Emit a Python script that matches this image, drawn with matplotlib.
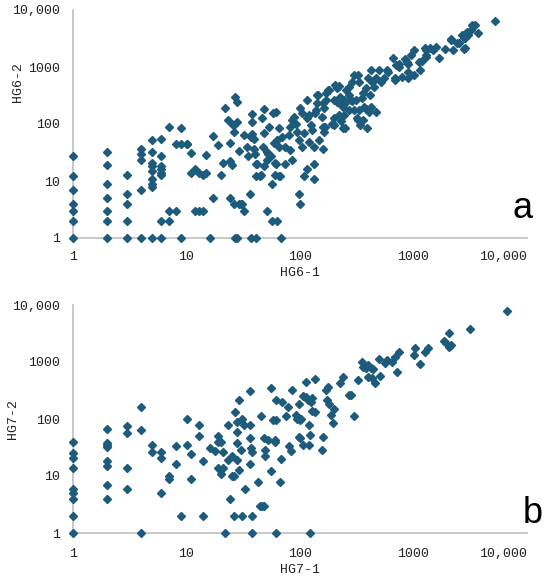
import numpy as np
import matplotlib.pyplot as plt

# HG6 (panel a): HG6-1 vs HG6-2
hg6_1 = [1, 1, 1, 1, 1, 1, 1,
         2, 2, 2, 2, 2, 2, 2,
         3, 3, 3, 3, 3,
         4, 4, 4, 4, 4,
         5, 5, 5, 5, 5, 5, 5, 5, 5,
         6, 6, 6, 6, 6, 6, 6, 6,
         7, 7, 7, 8, 8, 9, 9, 9, 10, 10, 11, 11,
         12, 12, 13, 13, 14, 14, 15, 15, 16, 17, 17, 19, 20, 21, 22, 23, 24, 24, 24, 25, 25, 26, 26, 26,
         27, 28, 28, 29, 29, 30, 31, 27, 28, 32, 32, 34, 35, 36, 38, 38, 38, 37, 39, 39, 40, 41, 42,
         41, 44, 45, 37, 41, 46, 48, 47, 48, 48, 51, 52, 51, 53, 51, 55, 57, 57, 58, 59, 60, 60,
         61, 65, 63, 65, 61, 65, 67, 63, 68, 70, 74, 74, 80, 82, 85, 82, 85, 88, 92, 95, 98, 98, 101,
         101, 105, 105, 108, 108, 115, 115, 115, 120, 120, 124, 128, 132, 132, 132, 136, 140, 143, 146,
         155, 160, 160, 164, 164, 170, 180, 170, 195, 200, 200, 205, 213, 220, 220, 227, 235, 240, 240,
         246, 254, 254, 270, 270, 280, 290, 300, 300, 310, 320, 325, 340, 350, 360, 370, 380, 400, 405,
         420, 430, 450, 550, 580, 600, 660, 690, 700, 740, 790, 900, 870, 950, 1000, 1260, 1300, 1410,
         1500, 2150, 2210, 2420, 2650, 2860, 2860, 2960, 3050, 3200, 3500, 3700, 5200,
         3300, 2800, 2900, 2800, 2500, 2150, 1900, 2800, 1690, 1590, 1290, 1290, 1180, 1120, 1150,
         1000, 890, 850, 890, 740, 690, 500, 470, 520, 324, 450, 410, 470, 425, 380, 390, 360, 330,
         330, 270, 220, 178, 290, 245, 210, 160, 140, 137, 200, 230, 250, 190, 166]
hg6_2 = [27, 12, 7, 4, 3, 2, 1,
         32, 19, 9, 5, 3, 2, 1,
         13, 6, 4, 2, 1,
         36, 30, 23, 7, 1,
         52, 32, 21, 18, 15, 11, 9, 8, 1,
         54, 27, 18, 16, 14, 13, 2, 1,
         88, 3, 2, 45, 3, 84, 44, 1, 44, 44, 31, 14,
         3, 16, 3, 14, 3, 13, 29, 14, 1, 5, 61, 42, 13, 21, 193, 117, 46, 5, 22, 19, 100, 72, 4, 98,
         300, 245, 110, 34, 4, 4, 4, 1, 1, 3, 63, 40, 27, 6, 150, 110, 68, 60, 54, 37, 30, 20, 20,
         12, 12, 13, 1, 1, 125, 186, 40, 69, 18, 32, 30, 3, 90, 23, 27, 9, 2, 155, 46, 21, 13,
         164, 84, 52, 40, 20, 12, 12, 2, 1, 60, 40, 20, 63, 90, 117, 35, 23, 134, 102, 73, 52, 6, 4,
         188, 155, 40, 69, 12, 16, 262, 125, 49, 145, 96, 78, 40, 20, 11, 155, 233, 324, 52,
         134, 90, 37, 73, 188, 262, 400, 345, 102, 96, 262, 480, 420, 233, 145, 300, 245, 200, 84,
         145, 400, 245, 324, 176, 262, 550, 720, 176, 262, 125, 117, 96, 282, 345, 200, 420, 630, 164,
         890, 550, 590, 630, 890, 830, 1420, 590, 1080, 1150, 680, 830, 1240, 1620, 1990, 2130, 1510, 2130,
         1990, 2960, 1990, 2620, 3630, 2130, 3200, 4170, 3630, 4500, 5500, 3900, 6500,
         5450, 3500, 4000, 3200, 2600, 3070, 2100, 2080, 1450, 2200, 2000, 1620, 1290, 1230, 870,
         720, 630, 1360, 1150, 1000, 630, 890, 630, 550, 720, 440, 320, 165, 200, 183, 84, 117, 178,
         550, 450, 470, 400, 250, 260, 245, 230, 320, 178, 125, 115, 84, 100, 90]

# HG7 (panel b): HG7-1 vs HG7-2
hg7_1 = [1, 1, 1, 1, 1, 1, 1, 1, 1,
         2, 2, 2, 2, 2, 2, 2, 2,
         3, 3, 3, 3, 4, 4, 4, 5, 5, 6, 6, 6, 7, 7,
         8, 8, 9, 10, 10, 11, 11, 13, 13, 14, 14, 16, 18, 19, 19, 20, 19, 20, 21, 21, 22, 23, 23,
         24, 25, 25, 26, 27, 28, 28, 28, 28, 26, 29, 29, 30, 31, 31, 32, 33, 36, 36, 36, 36, 37, 38,
         38, 38, 43, 44, 46, 48, 45, 48, 49, 49, 52, 55, 55, 58, 60,
         61, 61, 60, 68, 66, 62, 69, 78, 76, 80, 84, 85, 92, 95, 98, 99, 102, 98, 101, 106, 106, 112,
         113, 117, 119, 121, 123, 123, 124, 128, 128, 135, 136, 158, 156, 170, 176, 174, 180, 186, 196,
         201, 227, 238, 270, 280, 300, 325, 350, 360, 380, 400, 420, 440, 400, 430, 460, 500, 510, 560,
         580, 650, 690, 720, 750, 1020, 1040, 1150, 1260, 1350, 1860, 1920, 2050, 2050, 2130, 3140, 6700]
hg7_2 = [40, 25, 21, 14, 6, 5, 4, 2, 1,
         66, 38, 35, 32, 18, 15, 7, 4,
         74, 56, 14, 6, 160, 64, 1, 35, 26, 26, 21, 5, 10, 9,
         34, 16, 2, 102, 35, 24, 9, 78, 51, 18, 2, 31, 27, 51, 40, 40, 14, 11, 26, 14, 1, 78, 19,
         4, 22, 10, 10, 135, 90, 19, 58, 38, 2, 215, 13, 29, 102, 2, 78, 6, 46, 16, 310, 78, 31, 26,
         2, 1, 8, 3, 3, 3, 115, 46, 29, 22, 43, 12, 345, 96, 42,
         215, 96, 40, 20, 8, 1, 200, 165, 112, 33, 28, 320, 117, 102, 186, 96, 102, 49, 46, 250, 35, 450,
         245, 215, 78, 35, 52, 1, 200, 230, 140, 500, 135, 49, 29, 320, 370, 215, 186, 117, 84,
         148, 425, 540, 260, 260, 112, 480, 1000, 830, 780, 900, 800, 760, 540, 520, 435, 1150, 570, 950,
         1090, 1000, 1240, 680, 1510, 1320, 1740, 920, 1510, 1740, 2290, 2150, 3170, 1860, 2000, 3740, 7970]

panels = [(hg6_1, hg6_2, 'HG6-1', 'HG6-2', 'a'),
          (hg7_1, hg7_2, 'HG7-1', 'HG7-2', 'b')]
ticks = [1, 10, 100, 1000, 10000]
tick_labels = ['1', '10', '100', '1000', '10,000']

mono = 'Liberation Mono'
dot_color = '#1d5b7d'
axis_color = '#bfbfbf'
text_color = '#222222'

fig = plt.figure(figsize=(5.5, 5.76), dpi=100)
ax_rects = [[73/550, 338/576, 454/550, 228/576],
            [73/550, 43/576, 454/550, 228/576]]
ylabel_xy = [(-0.108, 0.684), (-0.118, 0.5)]
xpad = [9, 11]
letter_pos = [(0.931, 0.6215), (0.951, 0.092)]

for i, (xs, ys, xl, yl, letter) in enumerate(panels):
    ax = fig.add_axes(ax_rects[i])
    ax.plot(xs, ys, ls='none', marker='D', ms=4.2, color=dot_color, mec=dot_color, clip_on=False)
    ax.set_xscale('log')
    ax.set_yscale('log')
    ax.set_xlim(1, 10000)
    ax.set_ylim(1, 10000)
    ax.set_xticks(ticks)
    ax.set_xticklabels(tick_labels)
    ax.set_yticks(ticks)
    ax.set_yticklabels(tick_labels)
    ax.minorticks_off()
    ax.tick_params(length=0, labelsize=9.5, colors=text_color)
    ax.tick_params(axis='x', pad=xpad[i])
    ax.tick_params(axis='y', pad=9)
    for lab in ax.get_xticklabels() + ax.get_yticklabels():
        lab.set_family(mono)
    # last x label sits a little inside the axis end, as in the original
    ax.get_xticklabels()[-1].set_horizontalalignment('right')
    ax.get_xticklabels()[-1].set_x(10000 * 1.2)
    for s in ['top', 'right']:
        ax.spines[s].set_visible(False)
    for s in ['left', 'bottom']:
        ax.spines[s].set_color(axis_color)
        ax.spines[s].set_linewidth(1.2)
        ax.spines[s].set_zorder(0)
    ax.set_xlabel(xl, fontsize=9.5, family=mono, color=text_color, labelpad=3)
    ax.set_ylabel(yl, fontsize=9.5, family=mono, color=text_color)
    ax.yaxis.set_label_coords(*ylabel_xy[i])
    fig.text(letter_pos[i][0], letter_pos[i][1], letter, fontsize=26,
             family='Liberation Sans', color='black', ha='left', va='baseline')

fig.savefig('out.png', dpi=100)
